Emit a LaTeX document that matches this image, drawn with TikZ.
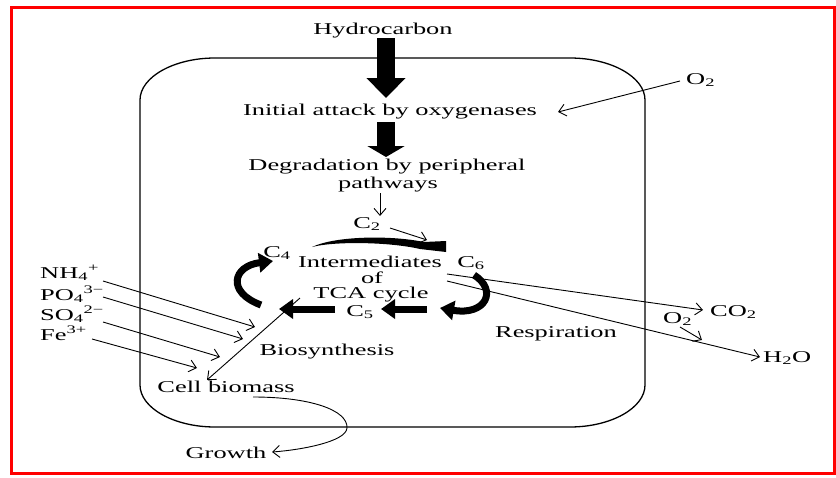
\documentclass[tikz,border=0pt]{standalone}
\usepackage{fontspec}
\setmainfont{Liberation Serif}[FakeStretch=1.6]
\usetikzlibrary{arrows.meta}
\begin{document}
\begin{tikzpicture}[x=1pt,y=-1pt,
  lbl/.style={font=\fontsize{16.5}{18}\selectfont, inner sep=0pt, anchor=base},
  conn/.style={line width=0.9pt, -{Straight Barb[length=7pt,width=12pt]}},
  fat/.style={line width=7pt, -{Triangle[length=14pt,width=19pt]}},
  bigarrow/.style={line width=18pt},
  cellline/.style={line width=1.3pt},
  frame/.style={draw=red, line width=3pt}]
\useasboundingbox (0,0) rectangle (836,477);
\draw[frame] (11,7) rectangle (834,473);
% cell
\draw[cellline] (215,58) -- (570,58) .. controls (611,58) and (645,77) .. (645,100)
  -- (645,385) .. controls (645,408) and (611,427) .. (570,427)
  -- (215,427) .. controls (174,427) and (140,408) .. (140,385)
  -- (140,100) .. controls (140,77) and (174,58) .. (215,58) -- cycle;
% texts
\node[lbl] (hydro) at (383,34) {Hydrocarbon};
\node[lbl] (attack) at (390,115) {Initial attack by oxygenases};
\node[lbl] (degr) at (387,170) {Degradation by peripheral};
\node[lbl] (pathw) at (388,188) {pathways};
\node[lbl] (c2) at (367,228) {C\textsubscript{2}};
\node[lbl] (c4) at (277,257) {C\textsubscript{4}};
\node[lbl] (int1) at (370,267) {Intermediates};
\node[lbl] (int2) at (372,283) {of};
\node[lbl] (int3) at (371,298) {TCA cycle};
\node[lbl] (c6) at (471,267) {C\textsubscript{6}};
\node[lbl] (c5) at (360,316) {C\textsubscript{5}};
\node[lbl, anchor=base west] (nh4) at (40,278) {NH\textsubscript{4}\textsuperscript{+}};
\node[lbl, anchor=base west] (po4) at (40,300) {PO\textsubscript{4}\textsuperscript{3−}};
\node[lbl, anchor=base west] (so4) at (40,320) {SO\textsubscript{4}\textsuperscript{2−}};
\node[lbl, anchor=base west] (fe) at (40,340) {Fe\textsuperscript{3+}};
\node[lbl] (bios) at (327,355) {Biosynthesis};
\node[lbl] (biom) at (226,392) {Cell biomass};
\node[lbl] (growth) at (226,458) {Growth};
\node[lbl] (resp) at (556,337) {Respiration};
\node[lbl, anchor=base west] (co2) at (710,316) {CO\textsubscript{2}};
\node[lbl, anchor=base west] (o2b) at (663,323) {O\textsubscript{2}};
\node[lbl, anchor=base west] (h2o) at (763,362) {H\textsubscript{2}O};
\node[lbl, anchor=base west] (o2a) at (686,84) {O\textsubscript{2}};
% coordinates
\coordinate (a1s) at (386,38);  \coordinate (a1e) at (386,98);
\coordinate (a2s) at (386,122); \coordinate (a2e) at (386,157);
\coordinate (pws) at (380,193); \coordinate (pwe) at (380,216);
\coordinate (c2s) at (390,228); \coordinate (c2e) at (427,240);
\coordinate (o2as) at (680,81); \coordinate (o2ae) at (558,112);
\coordinate (r1s) at (447,274); \coordinate (r1e) at (703,310);
\coordinate (r2s) at (447,281); \coordinate (r2e) at (760,357);
\coordinate (o2bs) at (680,327); \coordinate (o2be) at (702,340);
\coordinate (nhe) at (255,327); \coordinate (nhs) at (103,281);
\coordinate (poe) at (243,339); \coordinate (pos) at (103,297);
\coordinate (soe) at (220,357); \coordinate (sos) at (103,322);
\coordinate (fee) at (197,368); \coordinate (fes) at (92,339);
\coordinate (bs) at (300,298); \coordinate (be) at (207,380);
\coordinate (gs) at (253,397); \coordinate (ge) at (272,452);
% big arrows
\draw[bigarrow, -{Triangle[length=20pt,width=38pt]}] (a1s) -- (a1e);
\draw[bigarrow, -{Triangle[length=11pt,width=37pt]}] (a2s) -- (a2e);
% thin arrows
\draw[conn] (pws) -- (pwe);
\draw[conn] (c2s) -- (c2e);
\draw[conn] (o2as) -- (o2ae);
\draw[conn] (r1s) -- (r1e);
\draw[conn] (r2s) -- (r2e);
\draw[conn] (o2bs) -- (o2be);
\draw[conn] (nhs) -- (nhe);
\draw[conn] (pos) -- (poe);
\draw[conn] (sos) -- (soe);
\draw[conn] (fes) -- (fee);
\draw[conn] (bs) -- (be);
\draw[conn] (gs) .. controls (310,397) and (348,410) .. (347,428)
  .. controls (346,442) and (300,450) .. (ge);
% TCA cycle thick arrows
\fill (312,247) .. controls (335,236) and (390,235) .. (424,242) -- (446,241)
  -- (446,252) -- (420,249) .. controls (390,242) and (335,241) .. (312,247) -- cycle;
\draw[fat] (474,275) .. controls (498,290) and (486,316) .. (440,308);
\draw[fat] (427,309) -- (381,309);
\draw[fat] (335,309) -- (279,309);
\draw[fat] (261,305) .. controls (226,292) and (233,266) .. (273,261);
\end{tikzpicture}
\end{document}
